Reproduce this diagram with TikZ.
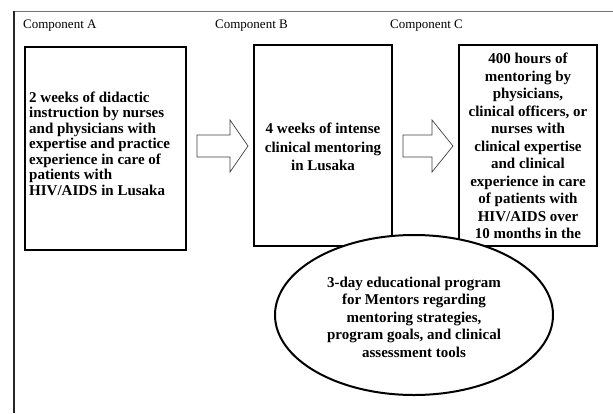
\documentclass[tikz,border=0pt]{standalone}
\usepackage{fontspec}
\setmainfont{Liberation Serif}
\usetikzlibrary{shapes.geometric}
\begin{document}
\begin{tikzpicture}[x=1pt,y=-1pt,
  compbox/.style={draw=black, line width=2pt, fill=white, inner sep=0pt, minimum width=#1},
  headlbl/.style={anchor=west, inner sep=0pt, font=\fontsize{13}{15}\selectfont},
  boldtxt/.style={inner sep=0pt, font=\fontsize{15}{#1}\selectfont\bfseries},
  blockarrow/.style={draw=black!75, line width=0.7pt, fill=white, line join=miter},
  mentorell/.style={draw=black, line width=2pt, fill=white, ellipse, inner sep=0pt},
]
\useasboundingbox (0,0) rectangle (613,413);
% outer frame
\draw[black!55, line width=0.8pt] (14,11) -- (613,11);
\draw[black!85, line width=1.5pt] (14,11) -- (14,413);
% headers
\node[headlbl] (hA) at (23,26) {Component A};
\node[headlbl] (hB) at (215,26) {Component B};
\node[headlbl] (hC) at (390,26) {Component C};
% boxes
\node[compbox=161pt, minimum height=203pt] (boxA) at (105.5,148.5) {};
\node[compbox=138pt, minimum height=201pt] (boxB) at (323,145.5) {};
\node[compbox=138pt, minimum height=201pt] (boxC) at (528,145.5) {};
% texts
\node[boldtxt=15.5pt, anchor=west, align=left] (textA) at (29,143.5)
  {2 weeks of didactic\\instruction by nurses\\and physicians with\\expertise and practice\\experience in care of\\patients with\\HIV/AIDS in Lusaka};
\node[boldtxt=18.5pt, align=center] (textB) at (323,147)
  {4 weeks of intense\\clinical mentoring\\in Lusaka};
\node[boldtxt=17.5pt, align=center, anchor=north] (textC) at (528,53)
  {400 hours of\\mentoring by\\physicians,\\clinical officers, or\\nurses with\\clinical expertise\\and clinical\\experience in care\\of patients with\\HIV/AIDS over\\10 months in the};
% block arrows
\draw[blockarrow] (197,135) -- (230,135) -- (230,120) -- (248,146) -- (230,172) -- (230,157) -- (197,157) -- cycle;
\draw[blockarrow] (403,135) -- (432,135) -- (432,120) -- (453,146) -- (432,172) -- (432,157) -- (403,157) -- cycle;
% ellipse
\node[mentorell, minimum width=278pt, minimum height=160pt] (ell) at (414,315) {};
\node[boldtxt=17.5pt, align=center] (ellText) at (414,317)
  {3-day educational program\\for Mentors regarding\\mentoring strategies,\\program goals, and clinical\\assessment tools};
\end{tikzpicture}
\end{document}
